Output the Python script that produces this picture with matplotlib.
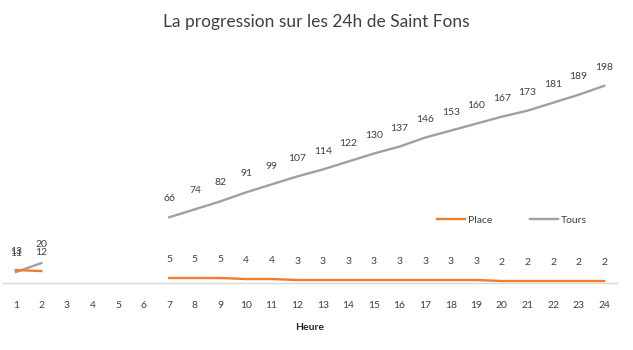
import numpy as np
import matplotlib
matplotlib.use("Agg")
import matplotlib.pyplot as plt

plt.rcParams['font.family'] = ['Lato', 'DejaVu Sans']

heures = list(range(1, 25))
nan = np.nan
place = [13, 12, nan, nan, nan, nan, 5, 5, 5, 4, 4, 3, 3, 3, 3, 3, 3, 3, 3, 2, 2, 2, 2, 2]
tours = [11, 20, nan, nan, nan, nan, 66, 74, 82, 91, 99, 107, 114, 122, 130, 137, 146, 153, 160, 167, 173, 181, 189, 198]

W, H = 633, 350
fig = plt.figure(figsize=(W / 100, H / 100), dpi=100)
left, right, bottom, top = 3, 617, 283, 34
ax = fig.add_axes([left / W, 1 - bottom / H, (right - left) / W, (bottom - top) / H])

orange = '#ED7D31'
gray = '#A0A0A0'
x = np.array(heures)
ax.plot(x, tours, color=gray, lw=1.7, label='Tours', zorder=2)
ax.plot(x, place, color=orange, lw=1.7, label='Place', zorder=3)

for xi, v in zip(x, place):
    if not np.isnan(v):
        ax.annotate(f"{int(v)}", (xi, v), xytext=(0, 10), textcoords='offset points',
                    ha='center', va='bottom', fontsize=7.5, color='#404040')
for xi, v in zip(x, tours):
    if not np.isnan(v):
        ax.annotate(f"{int(v)}", (xi, v), xytext=(0, 10), textcoords='offset points',
                    ha='center', va='bottom', fontsize=7.5, color='#404040')

ax.set_xlim(0.5, 24.5)
ax.set_ylim(0, 250)
ax.set_xticks(x)
ax.set_xticklabels([str(h) for h in heures], fontsize=7.5, color='#404040')
ax.tick_params(axis='x', length=0, pad=13)
ax.set_yticks([])
for s in ['top', 'right', 'left']:
    ax.spines[s].set_visible(False)
ax.spines['bottom'].set_color('#D9D9D9')
ax.spines['bottom'].set_linewidth(1)

ax.set_xlabel('Heure', fontsize=7.5, fontweight='bold', color='#262626', labelpad=9)

fig.text(0.5, 1 - 22 / H, 'La progression sur les 24h de Saint Fons', ha='center', va='center',
         fontsize=12.5, color='#404040')

handles, labels = ax.get_legend_handles_labels()
leg = ax.legend(handles[::-1], labels[::-1], loc='center', bbox_to_anchor=((512 - left) / (right - left), (bottom - 220) / (bottom - top)),
                ncol=2, frameon=False, fontsize=7.5, handlelength=2.7, columnspacing=3.6, handletextpad=0.3)
for t in leg.get_texts():
    t.set_color('#404040')

fig.savefig('out.png', dpi=100)
